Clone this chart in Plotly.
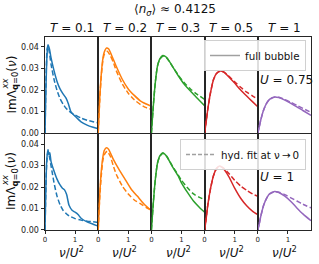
import plotly.graph_objects as go
from plotly.subplots import make_subplots

# ---------------- data ----------------
T_labels = ["0.1", "0.2", "0.3", "0.5", "1"]
U_labels = ["0.75", "1"]
colors = ["#1f77b4", "#ff7f0e", "#2ca02c", "#d62728", "#9467bd"]
xtick_vals = [0, 1]
xtick_text = ["0", "1"]
ytick_vals = [0, 0.01, 0.02, 0.03, 0.04]
ytick_text = ["0.00", "0.01", "0.02", "0.03", "0.04"]

# U = 0.75
u075_T01_nu_full = [0, 0.03, 0.07, 0.1, 0.15, 0.2, 0.3, 0.4, 0.5, 0.6, 0.7, 0.78, 0.86, 0.95, 1.05, 1.2, 1.4, 1.6, 1.77]
u075_T01_full = [0, 0.02, 0.037, 0.041, 0.039, 0.035, 0.029, 0.024, 0.0205, 0.0182, 0.0162, 0.0135, 0.0100, 0.0085, 0.0072, 0.0052, 0.0037, 0.0027, 0.002]
u075_T01_nu_hyd = [0, 0.03, 0.07, 0.1, 0.15, 0.2, 0.3, 0.4, 0.5, 0.6, 0.7, 0.8, 0.9, 1.0, 1.2, 1.4, 1.6, 1.77]
u075_T01_hyd = [0, 0.022, 0.039, 0.0405, 0.037, 0.032, 0.025, 0.0198, 0.016, 0.0135, 0.0115, 0.0102, 0.0092, 0.0084, 0.007, 0.006, 0.0053, 0.0048]

u075_T02_nu_full = [0, 0.05, 0.1, 0.15, 0.2, 0.28, 0.35, 0.45, 0.6, 0.8, 1.0, 1.2, 1.4, 1.6, 1.77]
u075_T02_full = [0, 0.016, 0.027, 0.034, 0.0375, 0.0395, 0.039, 0.036, 0.031, 0.025, 0.0205, 0.0175, 0.015, 0.0135, 0.0124]
u075_T02_nu_hyd = [0, 0.05, 0.1, 0.15, 0.2, 0.3, 0.4, 0.5, 0.6, 0.8, 1.0, 1.2, 1.4, 1.6, 1.77]
u075_T02_hyd = [0, 0.015, 0.026, 0.033, 0.0365, 0.038, 0.036, 0.033, 0.029, 0.0228, 0.0185, 0.0155, 0.0133, 0.0118, 0.011]

u075_T03_nu = [0, 0.05, 0.1, 0.15, 0.2, 0.28, 0.38, 0.5, 0.7, 0.9, 1.1, 1.3, 1.5, 1.77]
u075_T03_full = [0, 0.01, 0.019, 0.026, 0.031, 0.0345, 0.036, 0.0352, 0.031, 0.0265, 0.0225, 0.0195, 0.0165, 0.0127]
u075_T03_hyd = [0, 0.01, 0.019, 0.026, 0.031, 0.0343, 0.0357, 0.035, 0.031, 0.0268, 0.0232, 0.0205, 0.0182, 0.0157]

u075_T05_nu = [0, 0.05, 0.1, 0.2, 0.3, 0.4, 0.52, 0.65, 0.8, 1.0, 1.2, 1.4, 1.6, 1.77]
u075_T05_full = [0, 0.005, 0.0105, 0.019, 0.025, 0.0278, 0.0288, 0.0282, 0.0262, 0.0232, 0.020, 0.0172, 0.0145, 0.0122]
u075_T05_hyd = [0, 0.005, 0.0105, 0.019, 0.025, 0.0277, 0.0287, 0.0283, 0.0265, 0.0238, 0.0213, 0.019, 0.0172, 0.0157]

u075_T1_nu = [0, 0.05, 0.1, 0.2, 0.3, 0.4, 0.56, 0.7, 0.9, 1.1, 1.3, 1.5, 1.77]
u075_T1_full = [0, 0.003, 0.0062, 0.011, 0.014, 0.0158, 0.0168, 0.0165, 0.0153, 0.0138, 0.0122, 0.0105, 0.0082]
u075_T1_hyd = [0, 0.003, 0.0062, 0.011, 0.014, 0.0157, 0.0167, 0.0166, 0.0156, 0.0143, 0.0129, 0.0115, 0.0096]

# U = 1
u1_T01_nu_full = [0, 0.03, 0.06, 0.1, 0.13, 0.16, 0.2, 0.3, 0.4, 0.5, 0.58, 0.65, 0.72, 0.8, 0.9, 1.0, 1.1, 1.2, 1.4, 1.6, 1.77]
u1_T01_full = [0, 0.02, 0.033, 0.0375, 0.035, 0.036, 0.032, 0.0275, 0.0237, 0.021, 0.0195, 0.0187, 0.0165, 0.0115, 0.0092, 0.0083, 0.0072, 0.0055, 0.0038, 0.0027, 0.0018]
u1_T01_nu_hyd = [0, 0.03, 0.06, 0.1, 0.15, 0.2, 0.25, 0.3, 0.4, 0.5, 0.6, 0.7, 0.8, 1.0, 1.2, 1.4, 1.6, 1.77]
u1_T01_hyd = [0, 0.02, 0.032, 0.0365, 0.034, 0.030, 0.026, 0.022, 0.0158, 0.0118, 0.0092, 0.0077, 0.0066, 0.0053, 0.0046, 0.0041, 0.0038, 0.0035]

u1_T02_nu_full = [0, 0.05, 0.1, 0.15, 0.2, 0.28, 0.35, 0.5, 0.7, 0.9, 1.1, 1.3, 1.5, 1.65, 1.77]
u1_T02_full = [0, 0.016, 0.027, 0.0335, 0.037, 0.0383, 0.0375, 0.033, 0.028, 0.0235, 0.019, 0.0158, 0.0125, 0.0105, 0.009]
u1_T02_nu_hyd = [0, 0.05, 0.1, 0.15, 0.2, 0.3, 0.4, 0.5, 0.6, 0.8, 1.0, 1.2, 1.4, 1.6, 1.77]
u1_T02_hyd = [0, 0.015, 0.025, 0.032, 0.035, 0.0367, 0.0345, 0.030, 0.026, 0.0205, 0.0168, 0.014, 0.0123, 0.0105, 0.0093]

u1_T03_nu = [0, 0.05, 0.1, 0.15, 0.2, 0.28, 0.38, 0.5, 0.7, 0.9, 1.0, 1.2, 1.4, 1.6, 1.77]
u1_T03_full = [0, 0.01, 0.019, 0.026, 0.031, 0.0345, 0.036, 0.0345, 0.0295, 0.025, 0.022, 0.0175, 0.0135, 0.0105, 0.0083]
u1_T03_hyd = [0, 0.01, 0.019, 0.026, 0.031, 0.0343, 0.0357, 0.0345, 0.0298, 0.0255, 0.0232, 0.0197, 0.0168, 0.0152, 0.0142]

u1_T05_nu = [0, 0.05, 0.1, 0.2, 0.3, 0.4, 0.5, 0.6, 0.8, 1.0, 1.2, 1.4, 1.6, 1.77]
u1_T05_full = [0, 0.005, 0.011, 0.0195, 0.0255, 0.0288, 0.0298, 0.029, 0.025, 0.0195, 0.0148, 0.0113, 0.0087, 0.0072]
u1_T05_hyd = [0, 0.005, 0.011, 0.0195, 0.0255, 0.0287, 0.0297, 0.0292, 0.0265, 0.0232, 0.0205, 0.0185, 0.0168, 0.0157]

u1_T1_nu = [0, 0.05, 0.1, 0.2, 0.3, 0.4, 0.56, 0.7, 0.9, 1.1, 1.3, 1.5, 1.77]
u1_T1_full = [0, 0.003, 0.0065, 0.0118, 0.015, 0.017, 0.018, 0.0175, 0.0158, 0.0133, 0.0103, 0.0075, 0.0043]
u1_T1_hyd = [0, 0.003, 0.0065, 0.0118, 0.015, 0.0168, 0.0178, 0.0176, 0.0165, 0.015, 0.0135, 0.012, 0.0103]

panels = [
    [(u075_T01_nu_full, u075_T01_full, u075_T01_nu_hyd, u075_T01_hyd),
     (u075_T02_nu_full, u075_T02_full, u075_T02_nu_hyd, u075_T02_hyd),
     (u075_T03_nu, u075_T03_full, u075_T03_nu, u075_T03_hyd),
     (u075_T05_nu, u075_T05_full, u075_T05_nu, u075_T05_hyd),
     (u075_T1_nu, u075_T1_full, u075_T1_nu, u075_T1_hyd)],
    [(u1_T01_nu_full, u1_T01_full, u1_T01_nu_hyd, u1_T01_hyd),
     (u1_T02_nu_full, u1_T02_full, u1_T02_nu_hyd, u1_T02_hyd),
     (u1_T03_nu, u1_T03_full, u1_T03_nu, u1_T03_hyd),
     (u1_T05_nu, u1_T05_full, u1_T05_nu, u1_T05_hyd),
     (u1_T1_nu, u1_T1_full, u1_T1_nu, u1_T1_hyd)],
]

# ---------------- layout ----------------
W, H = 319, 264
ML, MR, MT, MB = 45, 8, 37, 34
PW, PH = W - ML - MR, H - MT - MB
FONT = "DejaVu Sans"
SPINE = "#262626"


def px_x(p):
    return (p - ML) / PW


def px_y(p):
    return 1 - (p - MT) / PH


fig = make_subplots(rows=2, cols=5)
row_dom = [[0.502, 1.0], [0.0, 0.498]]
yranges = [[0, 0.0446], [0, 0.0448]]

for r in range(2):
    for c in range(5):
        idx = r * 5 + c + 1
        nf, vf, nh, vh = panels[r][c]
        fig.add_trace(go.Scatter(x=nf, y=vf, mode="lines", showlegend=False,
                                 line=dict(color=colors[c], width=1.5, shape="spline", smoothing=0.6)),
                      row=r + 1, col=c + 1)
        fig.add_trace(go.Scatter(x=nh, y=vh, mode="lines", showlegend=False,
                                 line=dict(color=colors[c], width=1.5, dash="5px,2.5px", shape="spline", smoothing=0.6)),
                      row=r + 1, col=c + 1)
        xa = "xaxis" if idx == 1 else f"xaxis{idx}"
        ya = "yaxis" if idx == 1 else f"yaxis{idx}"
        fig.layout[xa].update(
            domain=[c / 5, (c + 1) / 5], range=[0, 1.77], showline=True, mirror=True,
            linecolor=SPINE, linewidth=1, showgrid=False, zeroline=False,
            tickvals=xtick_vals, ticktext=xtick_text,
            ticks="outside" if r == 1 else "", ticklen=3, tickcolor=SPINE,
            showticklabels=(r == 1), tickfont=dict(size=7, color="#222", family=FONT))
        fig.layout[ya].update(
            domain=row_dom[r], range=yranges[r], showline=True, mirror=True,
            linecolor=SPINE, linewidth=1, showgrid=False, zeroline=False,
            tickvals=ytick_vals, ticktext=ytick_text,
            ticks="outside" if c == 0 else "", ticklen=3.5, tickcolor=SPINE,
            showticklabels=(c == 0), tickfont=dict(size=8, color="#222", family=FONT))

# legend entries
fig.add_trace(go.Scatter(x=[None], y=[None], mode="lines", name="full bubble",
                         line=dict(color="#a0a0a0", width=1.5), legend="legend"), row=1, col=5)
fig.add_trace(go.Scatter(x=[None], y=[None], mode="lines", name="hyd. fit at ν\u2009→\u20090",
                         line=dict(color="#a0a0a0", width=1.5, dash="4px,2px"), legend="legend2"), row=2, col=5)

annotations = []
# column titles
for c in range(5):
    annotations.append(dict(text=f"<i>T</i> = {T_labels[c]}", x=(c + 0.5) / 5, y=px_y(28),
                            xref="paper", yref="paper", showarrow=False, xanchor="center", yanchor="middle",
                            font=dict(size=12, family=FONT, color="#111")))
    annotations.append(dict(text="<i>ν</i>/<i>U</i><sup>2</sup>", x=(c + 0.5) / 5, y=px_y(252),
                            xref="paper", yref="paper", showarrow=False, xanchor="center", yanchor="middle",
                            font=dict(size=12, family=FONT, color="#111")))
# suptitle
annotations.append(dict(text="⟨<i>n</i><sub><i>σ</i></sub>⟩ ≈ 0.4125", x=px_x(175), y=px_y(10),
                        xref="paper", yref="paper", showarrow=False, xanchor="center", yanchor="middle",
                        font=dict(size=12, family=FONT, color="#111")))
# U labels
annotations.append(dict(text=f"<i>U</i> = {U_labels[0]}", x=px_x(258), y=px_y(80),
                        xref="paper", yref="paper", showarrow=False, xanchor="left", yanchor="middle",
                        font=dict(size=12, family=FONT, color="#111")))
annotations.append(dict(text=f"<i>U</i> = {U_labels[1]}", x=px_x(258), y=px_y(177),
                        xref="paper", yref="paper", showarrow=False, xanchor="left", yanchor="middle",
                        font=dict(size=12, family=FONT, color="#111")))
# y labels (main text + stacked superscript)
for yc in (84.5, 181):
    annotations.append(dict(text="ImΛ<sub><b>q</b>=0</sub>(<i>ν</i>)", x=px_x(12), y=px_y(yc),
                            xref="paper", yref="paper", showarrow=False, textangle=-90,
                            xanchor="center", yanchor="middle",
                            font=dict(size=12, family=FONT, color="#111")))
    annotations.append(dict(text="<i>xx</i>", x=px_x(4.5), y=px_y(yc - 0.5),
                            xref="paper", yref="paper", showarrow=False, textangle=-90,
                            xanchor="center", yanchor="middle",
                            font=dict(size=8.5, family=FONT, color="#111")))

fig.update_layout(
    width=W, height=H, margin=dict(l=ML, r=MR, t=MT, b=MB, autoexpand=False),
    paper_bgcolor="white", plot_bgcolor="white",
    font=dict(family=FONT, color="#111"),
    annotations=annotations,
    legend=dict(x=px_x(306), xanchor="right", y=px_y(40), yanchor="top",
                bgcolor="rgba(255,255,255,0.85)", bordercolor="#d0d0d0", borderwidth=1,
                font=dict(size=10.3, family=FONT, color="#111"), itemwidth=30, tracegroupgap=0),
    legend2=dict(x=px_x(306), xanchor="right", y=px_y(139), yanchor="top",
                 bgcolor="rgba(255,255,255,0.85)", bordercolor="#d0d0d0", borderwidth=1,
                 font=dict(size=10.3, family=FONT, color="#111"), itemwidth=30, tracegroupgap=0),
)

fig.write_html("out.html", config={"displayModeBar": False},
               post_script="document.body.style.margin='0';document.body.style.padding='0';")
